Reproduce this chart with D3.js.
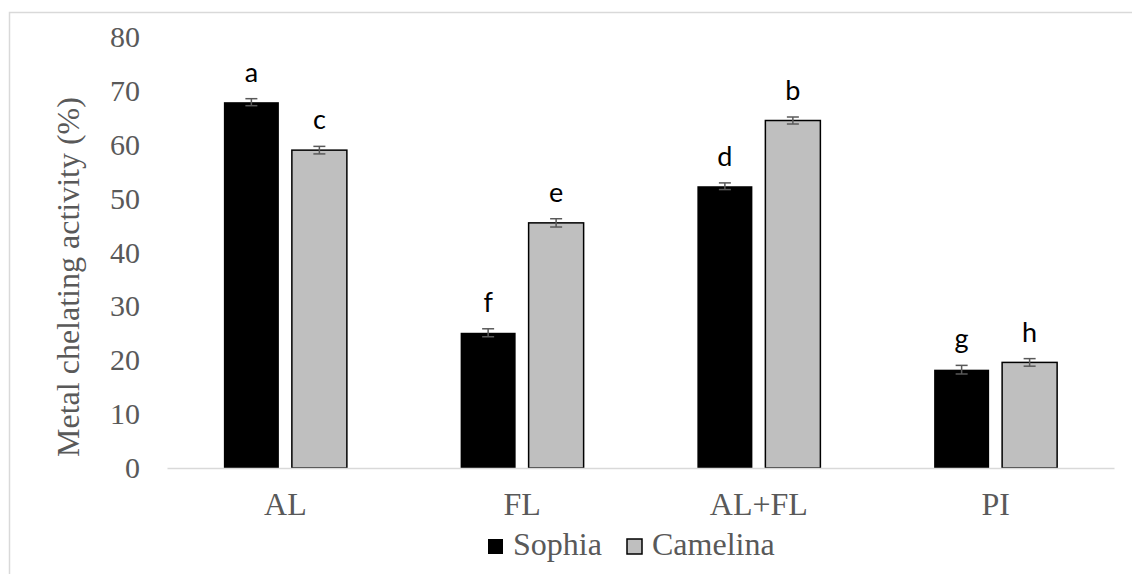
<!DOCTYPE html>
<html>
  <head>
    <meta charset="utf-8">
    <title>Metal chelating activity</title>
    <script type="text/javascript" src="https://d3js.org/d3.v7.min.js"></script>
    <style>
      body { margin: 0; background: #fff; }
    </style>
  </head>

  <body>
    <script>

    var categories = ["AL", "FL", "AL+FL", "PI"];
    var series = ["Sophia", "Camelina"];
    var sophia = [67.9, 25.1, 52.3, 18.25];
    var camelina = [59.0, 45.5, 64.5, 19.6];
    var sophiaErr = [0.65, 0.74, 0.62, 0.8];
    var camelinaErr = [0.7, 0.77, 0.65, 0.7];
    var sophiaLetters = ["a", "f", "d", "g"];
    var camelinaLetters = ["c", "e", "b", "h"];
    var yTicks = [0, 10, 20, 30, 40, 50, 60, 70, 80];

    var fills = { Sophia: "#000000", Camelina: "#bfbfbf" };
    var width = 1132, height = 574;

    // rows for the bars, built from the arrays above
    var rows = [];
    categories.forEach(function(c, i) {
      rows.push({ cat: c, s: "Sophia", v: sophia[i], e: sophiaErr[i], t: sophiaLetters[i] });
      rows.push({ cat: c, s: "Camelina", v: camelina[i], e: camelinaErr[i], t: camelinaLetters[i] });
    });

    var svg = d3.select("body")
                .append("svg")
                .attr("width", width)
                .attr("height", height);

    // chart border (runs off the right and bottom of the picture)
    svg.append("rect")
       .attr("x", 9.5).attr("y", 12.5)
       .attr("width", 1300).attr("height", 800)
       .attr("fill", "none")
       .attr("stroke", "#d9d9d9")
       .attr("stroke-width", 1.5);

    var y = d3.scaleLinear()
              .domain([0, 80])
              .range([468, 37]);

    var x0 = d3.scaleBand()
               .domain(categories)
               .range([167, 1114]);

    var bw = x0.bandwidth();
    var x1 = d3.scaleBand()
               .domain(series)
               .range([bw / 2 - 61.5, bw / 2 + 61.5])
               .paddingInner(0.191);

    // y tick labels
    var yAxis = d3.axisLeft(y).tickValues(yTicks).tickSize(0).tickPadding(0);
    var gy = svg.append("g")
                .attr("transform", "translate(140,0)")
                .call(yAxis);
    gy.select(".domain").remove();
    gy.selectAll("text")
      .attr("font-family", "'Liberation Serif', 'Times New Roman', serif")
      .attr("font-size", 30)
      .attr("fill", "#595959");

    // bars
    svg.selectAll("rect.bar")
       .data(rows)
       .enter()
         .append("rect")
         .attr("class", "bar")
         .attr("x", function(d) { return x0(d.cat) + x1(d.s); })
         .attr("y", function(d) { return y(d.v); })
         .attr("width", x1.bandwidth())
         .attr("height", function(d) { return y(0) - y(d.v); })
         .attr("fill", function(d) { return fills[d.s]; })
         .attr("stroke", function(d) { return d.s === "Camelina" ? "#000" : "none"; })
         .attr("stroke-width", 1.5);

    // category axis line
    var xAxis = d3.axisBottom(x0).tickSize(0).tickPadding(24);
    var gx = svg.append("g")
                .attr("transform", "translate(0," + y(0) + ")")
                .call(xAxis);
    gx.select(".domain")
      .attr("stroke", "#d9d9d9")
      .attr("stroke-width", 1.5);
    gx.selectAll("text")
      .attr("font-family", "'Liberation Serif', 'Times New Roman', serif")
      .attr("font-size", 32)
      .attr("fill", "#595959");

    // error bars
    var err = svg.append("g")
                 .attr("stroke", "#595959")
                 .attr("stroke-width", 1.5);
    rows.forEach(function(d) {
      var cx = x0(d.cat) + x1(d.s) + x1.bandwidth() / 2;
      err.append("line").attr("x1", cx).attr("x2", cx)
         .attr("y1", y(d.v - d.e)).attr("y2", y(d.v + d.e));
      err.append("line").attr("x1", cx - 6).attr("x2", cx + 6)
         .attr("y1", y(d.v - d.e)).attr("y2", y(d.v - d.e));
      err.append("line").attr("x1", cx - 6).attr("x2", cx + 6)
         .attr("y1", y(d.v + d.e)).attr("y2", y(d.v + d.e));
    });

    // significance letters
    svg.selectAll("text.letter")
       .data(rows)
       .enter()
         .append("text")
         .attr("class", "letter")
         .attr("x", function(d) { return x0(d.cat) + x1(d.s) + x1.bandwidth() / 2; })
         .attr("y", function(d) { return y(d.v + d.e) - 17; })
         .attr("text-anchor", "middle")
         .attr("font-family", "Lato, 'Open Sans', sans-serif")
         .attr("font-size", 27)
         .attr("fill", "#000")
         .text(function(d) { return d.t; });

    // y axis title
    svg.append("text")
       .attr("transform", "translate(79,277) rotate(-90)")
       .attr("text-anchor", "middle")
       .attr("font-family", "'Liberation Serif', 'Times New Roman', serif")
       .attr("font-size", 32)
       .attr("fill", "#595959")
       .text("Metal chelating activity (%)");

    // legend
    var legendX = [488, 627];
    var legend = svg.selectAll("g.legend")
                    .data(series)
                    .enter()
                      .append("g")
                      .attr("class", "legend")
                      .attr("transform", function(d, i) { return "translate(" + legendX[i] + ",539)"; });
    legend.append("rect")
          .attr("width", 15).attr("height", 15)
          .attr("fill", function(d) { return fills[d]; })
          .attr("stroke", function(d) { return d === "Camelina" ? "#000" : "none"; })
          .attr("stroke-width", 1.5);
    legend.append("text")
          .attr("x", 25).attr("y", 16)
          .attr("font-family", "'Liberation Serif', 'Times New Roman', serif")
          .attr("font-size", 32)
          .attr("fill", "#595959")
          .text(function(d) { return d; });

  </script>
  </body>
</html>
